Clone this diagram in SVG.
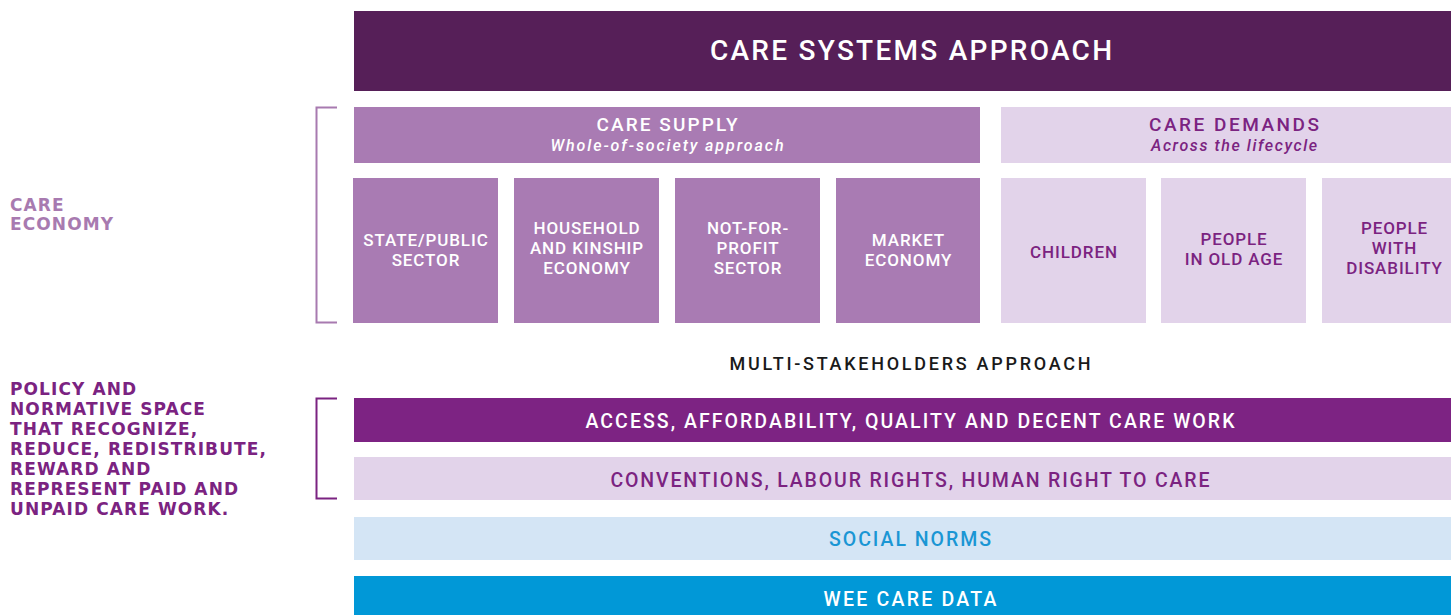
<svg xmlns="http://www.w3.org/2000/svg" width="1451" height="615" viewBox="0 0 1451 615">
<style>
text{font-family:Roboto,"Open Sans","Liberation Sans",sans-serif;text-anchor:middle;dominant-baseline:central;font-weight:500}
.w{fill:#ffffff}
.p{fill:#7b2381}
.box{font-size:17px;letter-spacing:0.9px}
.hdr{font-size:19px}
.sub{font-size:16px;font-style:italic}
.bar{font-size:19.5px}
.side{font-family:"DejaVu Sans","Liberation Sans",sans-serif;font-weight:700;font-size:17px;letter-spacing:1.1px;text-anchor:start}
.sup{fill:#a97bb3}
.dem{fill:#e2d3ea}
</style>
<rect width="1451" height="615" fill="#ffffff"/>
<g id="care-systems-approach">
<rect x="354" y="11" width="1097" height="80" fill="#561f58"/>
<text class="w" x="911" y="50" font-size="28" textLength="402" lengthAdjust="spacing">CARE SYSTEMS APPROACH</text>
</g>
<g id="care-economy-label">
<text class="side" x="10" y="205" fill="#a87ab0" font-size="18">CARE</text>
<text class="side" x="10" y="224" fill="#a87ab0" font-size="18">ECONOMY</text>
</g>
<g id="care-supply">
<rect class="sup" x="354" y="107" width="626" height="56"/>
<text class="w hdr" x="667" y="124" textLength="141" lengthAdjust="spacing">CARE SUPPLY</text>
<text class="w sub" x="667" y="145" textLength="233" lengthAdjust="spacing">Whole-of-society approach</text>
</g>
<g id="care-demands">
<rect class="dem" x="1001" y="107" width="450" height="56"/>
<text class="p hdr" x="1234" y="124" textLength="170" lengthAdjust="spacing">CARE DEMANDS</text>
<text class="p sub" x="1234" y="145" textLength="166" lengthAdjust="spacing">Across the lifecycle</text>
</g>
<g id="state-public-sector">
<rect class="sup" x="353" y="178" width="145" height="145"/>
<text class="w box" x="426" y="240">STATE/PUBLIC</text>
<text class="w box" x="426" y="260">SECTOR</text>
</g>
<g id="household-kinship">
<rect class="sup" x="514" y="178" width="145" height="145"/>
<text class="w box" x="587" y="228">HOUSEHOLD</text>
<text class="w box" x="587" y="248">AND KINSHIP</text>
<text class="w box" x="587" y="268">ECONOMY</text>
</g>
<g id="not-for-profit">
<rect class="sup" x="675" y="178" width="145" height="145"/>
<text class="w box" x="748" y="228">NOT-FOR-</text>
<text class="w box" x="748" y="248">PROFIT</text>
<text class="w box" x="748" y="268">SECTOR</text>
</g>
<g id="market-economy">
<rect class="sup" x="836" y="178" width="144" height="145"/>
<text class="w box" x="908.5" y="240">MARKET</text>
<text class="w box" x="908.5" y="260">ECONOMY</text>
</g>
<g id="children">
<rect class="dem" x="1001" y="178" width="145" height="145"/>
<text class="p box" x="1074" y="252">CHILDREN</text>
</g>
<g id="people-old-age">
<rect class="dem" x="1161" y="178" width="145" height="145"/>
<text class="p box" x="1234" y="239">PEOPLE</text>
<text class="p box" x="1234" y="259">IN OLD AGE</text>
</g>
<g id="people-disability">
<rect class="dem" x="1322" y="178" width="129" height="145"/>
<text class="p box" x="1394.5" y="228">PEOPLE</text>
<text class="p box" x="1394.5" y="248">WITH</text>
<text class="p box" x="1394.5" y="268">DISABILITY</text>
</g>
<g id="multi-stakeholders">
<text x="910" y="363" font-size="18" fill="#1a1a1a" textLength="361" lengthAdjust="spacing">MULTI-STAKEHOLDERS APPROACH</text>
</g>
<g id="policy-label">
<text class="side p" x="10" y="389">POLICY AND</text>
<text class="side p" x="10" y="409">NORMATIVE SPACE</text>
<text class="side p" x="10" y="429">THAT RECOGNIZE,</text>
<text class="side p" x="10" y="449">REDUCE, REDISTRIBUTE,</text>
<text class="side p" x="10" y="469">REWARD AND</text>
<text class="side p" x="10" y="489">REPRESENT PAID AND</text>
<text class="side p" x="10" y="509">UNPAID CARE WORK.</text>
</g>
<g id="access-bar">
<rect x="354" y="398" width="1097" height="44" fill="#7d2383"/>
<text class="w bar" x="910" y="421" textLength="649" lengthAdjust="spacing">ACCESS, AFFORDABILITY, QUALITY AND DECENT CARE WORK</text>
</g>
<g id="conventions-bar">
<rect class="dem" x="354" y="457" width="1097" height="43"/>
<text class="p bar" x="910" y="480" textLength="599" lengthAdjust="spacing">CONVENTIONS, LABOUR RIGHTS, HUMAN RIGHT TO CARE</text>
</g>
<g id="social-norms-bar">
<rect x="354" y="517" width="1097" height="43" fill="#d4e5f5"/>
<text class="bar" x="910" y="539" fill="#1a96d4" textLength="162" lengthAdjust="spacing">SOCIAL NORMS</text>
</g>
<g id="wee-care-data-bar">
<rect x="354" y="576" width="1097" height="39" fill="#0198d7"/>
<text class="w bar" x="910" y="599" textLength="173" lengthAdjust="spacing">WEE CARE DATA</text>
</g>
<g id="connectors" fill="none" stroke-width="2">
<path d="M337 107.5 H316.5 V322.5 H337" stroke="#a87ab0"/>
<path d="M337 398.5 H316.5 V498.5 H337" stroke="#7b2381"/>
</g>
</svg>
